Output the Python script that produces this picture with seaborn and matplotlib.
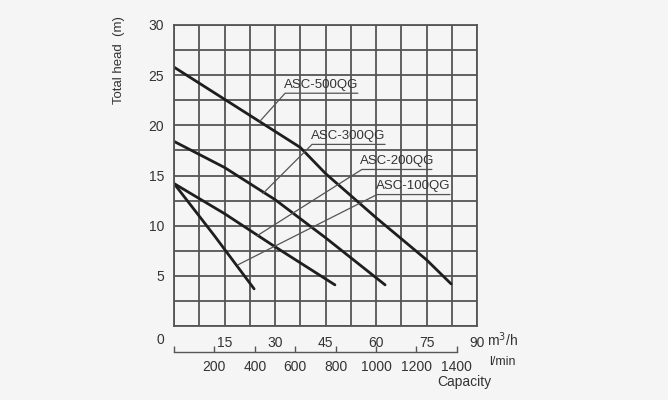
"""Pump performance curves: total head vs capacity for the ASC QG series."""

import matplotlib

matplotlib.use("Agg")

import matplotlib.pyplot as plt
import numpy as np
import pandas as pd
import seaborn as sns
from matplotlib.ticker import MultipleLocator, FixedLocator, FuncFormatter

# capacity in m3/h, head in m
Q_500 = [0, 15, 30, 37.5, 45, 60, 75, 82.3]
H_500 = [25.8, 22.6, 19.4, 17.8, 15.2, 10.8, 6.6, 4.2]
Q_300 = [0, 15, 30, 45, 62.7]
H_300 = [18.4, 15.8, 12.6, 8.8, 4.1]
Q_200 = [0, 15, 30, 47.8]
H_200 = [14.2, 11.2, 7.9, 4.1]
Q_100 = [0, 12, 23.8]
H_100 = [14.2, 9.0, 3.7]

MODELS = ["ASC-500QG", "ASC-300QG", "ASC-200QG", "ASC-100QG"]
M3H_TICKS = [15, 30, 45, 60, 75, 90]
HEAD_TICKS = [5, 10, 15, 20, 25, 30]
LMIN_TICKS = [0, 200, 400, 600, 800, 1000, 1200, 1400]

# leader line: point on curve, elbow, end of underline (data coords)
LEADERS = {
    "ASC-500QG": [(25.5, 20.4), (33.0, 23.2), (54.6, 23.2)],
    "ASC-300QG": [(26.4, 13.2), (41.0, 18.1), (62.7, 18.1)],
    "ASC-200QG": [(24.7, 9.0), (55.8, 15.6), (76.6, 15.6)],
    "ASC-100QG": [(19.0, 6.1), (60.3, 13.1), (82.0, 13.1)],
}

BG = "#f5f5f5"
GRID = "#555555"
INK = "#333333"


def build_frame() -> pd.DataFrame:
    parts = []
    for name, q, h in zip(MODELS, [Q_500, Q_300, Q_200, Q_100], [H_500, H_300, H_200, H_100]):
        parts.append(pd.DataFrame({"model": name, "capacity": q, "head": h}))
    return pd.concat(parts, ignore_index=True)


def main() -> None:
    sns.set_theme(style="white")
    plt.rcParams.update(
        {
            "font.family": ["Liberation Sans", "DejaVu Sans"],
            "figure.facecolor": BG,
            "axes.facecolor": BG,
            "text.color": INK,
            "xtick.color": INK,
            "ytick.color": INK,
        }
    )

    frame = build_frame()
    fig = plt.figure(figsize=(6.68, 4.0), dpi=100)
    ax = fig.add_axes([174 / 668, 1 - 326 / 400, 303 / 668, 301 / 400])

    # grid first so curves sit on top
    ax.set_xlim(0, 90)
    ax.set_ylim(0, 30)
    ax.xaxis.set_major_locator(FixedLocator(M3H_TICKS))
    ax.xaxis.set_minor_locator(MultipleLocator(7.5))
    ax.yaxis.set_major_locator(FixedLocator(HEAD_TICKS))
    ax.yaxis.set_minor_locator(MultipleLocator(2.5))
    ax.grid(which="both", color=GRID, linewidth=1.3)
    ax.set_axisbelow(True)
    for spine in ax.spines.values():
        spine.set_color(GRID)
        spine.set_linewidth(1.3)
    ax.tick_params(which="both", length=0, labelsize=10, pad=7)

    sns.lineplot(
        data=frame,
        x="capacity",
        y="head",
        hue="model",
        palette=["#1e1e1e"] * 4,
        linewidth=2.0,
        sort=False,
        legend=False,
        ax=ax,
    )
    ax.set_xlabel("")
    ax.set_ylabel("")

    for name, pts in LEADERS.items():
        xs, ys = zip(*pts)
        ax.plot(xs, ys, color="#555555", linewidth=0.9, zorder=4)
        ax.text(
            (pts[1][0] + pts[2][0]) / 2,
            pts[1][1] + 0.25,
            name,
            ha="center",
            va="bottom",
            fontsize=9.5,
            color=INK,
            zorder=5,
        )

    # second capacity scale in l/min
    ax2 = fig.add_axes([174 / 668, 1 - 352 / 400, 303 / 668, 0.0001])
    ax2.set_facecolor("none")
    ax2.set_xlim(0, 1500)
    ax2.set_ylim(0, 1)
    for side in ["top", "left", "right"]:
        ax2.spines[side].set_visible(False)
    ax2.spines["bottom"].set_bounds(0, 1400)
    ax2.spines["bottom"].set_color("#555555")
    ax2.spines["bottom"].set_linewidth(1.0)
    ax2.set_yticks([])
    ax2.set_xticks(LMIN_TICKS)
    ax2.xaxis.set_major_formatter(FuncFormatter(lambda v, _: "" if v == 0 else f"{v:.0f}"))
    ax2.tick_params(axis="x", bottom=True, direction="in", length=4.5, width=1.0,
                    color="#555555", labelsize=10, pad=6)

    fig.text(160 / 668, 1 - 340 / 400, "0", ha="center", va="center", fontsize=10)
    fig.text(487 / 668, 1 - 340 / 400, "m$^3$/h", ha="left", va="center", fontsize=10)
    fig.text(489 / 668, 1 - 362 / 400, "l/min", ha="left", va="center", fontsize=9)
    fig.text(464 / 668, 1 - 382 / 400, "Capacity", ha="center", va="center", fontsize=10)
    fig.text(119 / 668, 1 - 60 / 400, "Total head  (m)", ha="center", va="center",
             rotation=90, fontsize=9.5)

    fig.savefig("out.png", dpi=100, facecolor=BG)


if __name__ == "__main__":
    main()
